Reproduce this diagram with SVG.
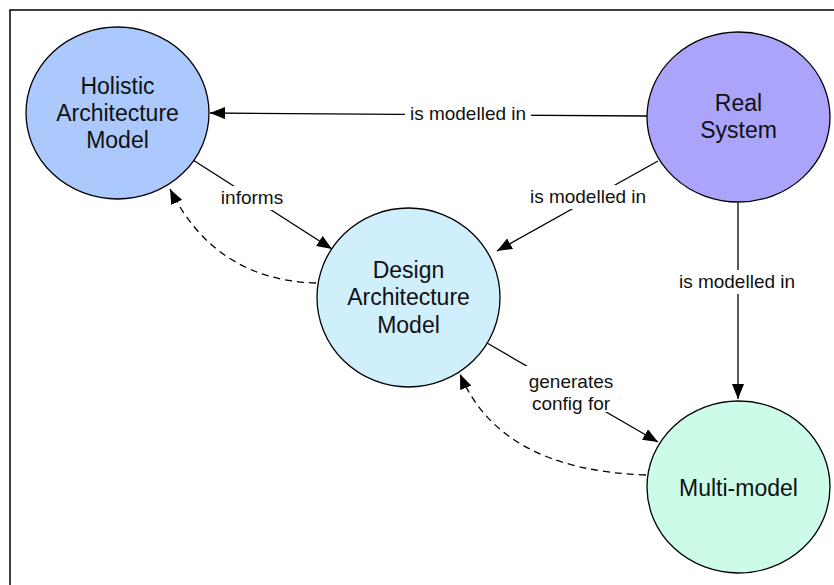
<svg xmlns="http://www.w3.org/2000/svg" width="834" height="585" viewBox="0 0 834 585">
<defs>
<marker id="ah" markerUnits="userSpaceOnUse" markerWidth="16" markerHeight="12" refX="15" refY="6" orient="auto">
<path d="M0,0 L15,6 L0,12 Z" fill="#000"/>
</marker>
<style>
.node{stroke:#000;stroke-width:1.3}
.nt{font-family:"Liberation Sans",Arial,sans-serif;font-size:23px;fill:#111;text-anchor:middle}
.lt{font-family:"Liberation Sans",Arial,sans-serif;font-size:19px;fill:#111;text-anchor:middle}
.e{fill:none;stroke:#000;stroke-width:1.3;marker-end:url(#ah)}
.d{stroke-dasharray:7,5}
.bg{fill:#fff}
</style>
</defs>
<rect width="834" height="585" fill="#fff"/>
<rect x="10" y="10" width="840" height="600" fill="none" stroke="#000" stroke-width="1.5"/>
<g id="connectors">
<path class="e" d="M647,116 L210,113"/>
<path class="e" d="M658,161 L497,251"/>
<path class="e" d="M738,203 L738,399"/>
<path class="e" d="M193,160 L332,249"/>
<path class="e" d="M487,343 L658,442"/>
<path class="e d" d="M316,283 Q215,280 170,189"/>
<path class="e d" d="M646,475 Q500,470 460,374"/>
<rect class="bg" x="405" y="102" width="126" height="24"/>
<text class="lt" x="468" y="120">is modelled in</text>
<rect class="bg" x="525" y="185" width="126" height="24"/>
<text class="lt" x="588" y="203">is modelled in</text>
<rect class="bg" x="675" y="270" width="126" height="24"/>
<text class="lt" x="737" y="288">is modelled in</text>
<rect class="bg" x="216" y="186" width="72" height="24"/>
<text class="lt" x="252" y="204">informs</text>
<rect class="bg" x="522" y="366" width="100" height="46"/>
<text class="lt" x="571" y="388">generates</text>
<text class="lt" x="571" y="410">config for</text>
</g>
<g id="holistic">
<ellipse class="node" cx="117.5" cy="113" rx="91.5" ry="86" fill="#abc9fd"/>
<text class="nt" x="117.5" y="94">Holistic</text>
<text class="nt" x="117.5" y="121">Architecture</text>
<text class="nt" x="117.5" y="148">Model</text>
</g>
<g id="real">
<ellipse class="node" cx="738.5" cy="117" rx="91.5" ry="85" fill="#aaa5fb"/>
<text class="nt" x="738.5" y="111">Real</text>
<text class="nt" x="738.5" y="138">System</text>
</g>
<g id="design">
<ellipse class="node" cx="408.5" cy="297.5" rx="91.5" ry="89.5" fill="#d0effd"/>
<text class="nt" x="408.5" y="278">Design</text>
<text class="nt" x="408.5" y="305">Architecture</text>
<text class="nt" x="408.5" y="333">Model</text>
</g>
<g id="multi">
<ellipse class="node" cx="738.5" cy="487" rx="91.5" ry="86" fill="#ccfbe8"/>
<text class="nt" x="738.5" y="496">Multi-model</text>
</g>
</svg>
